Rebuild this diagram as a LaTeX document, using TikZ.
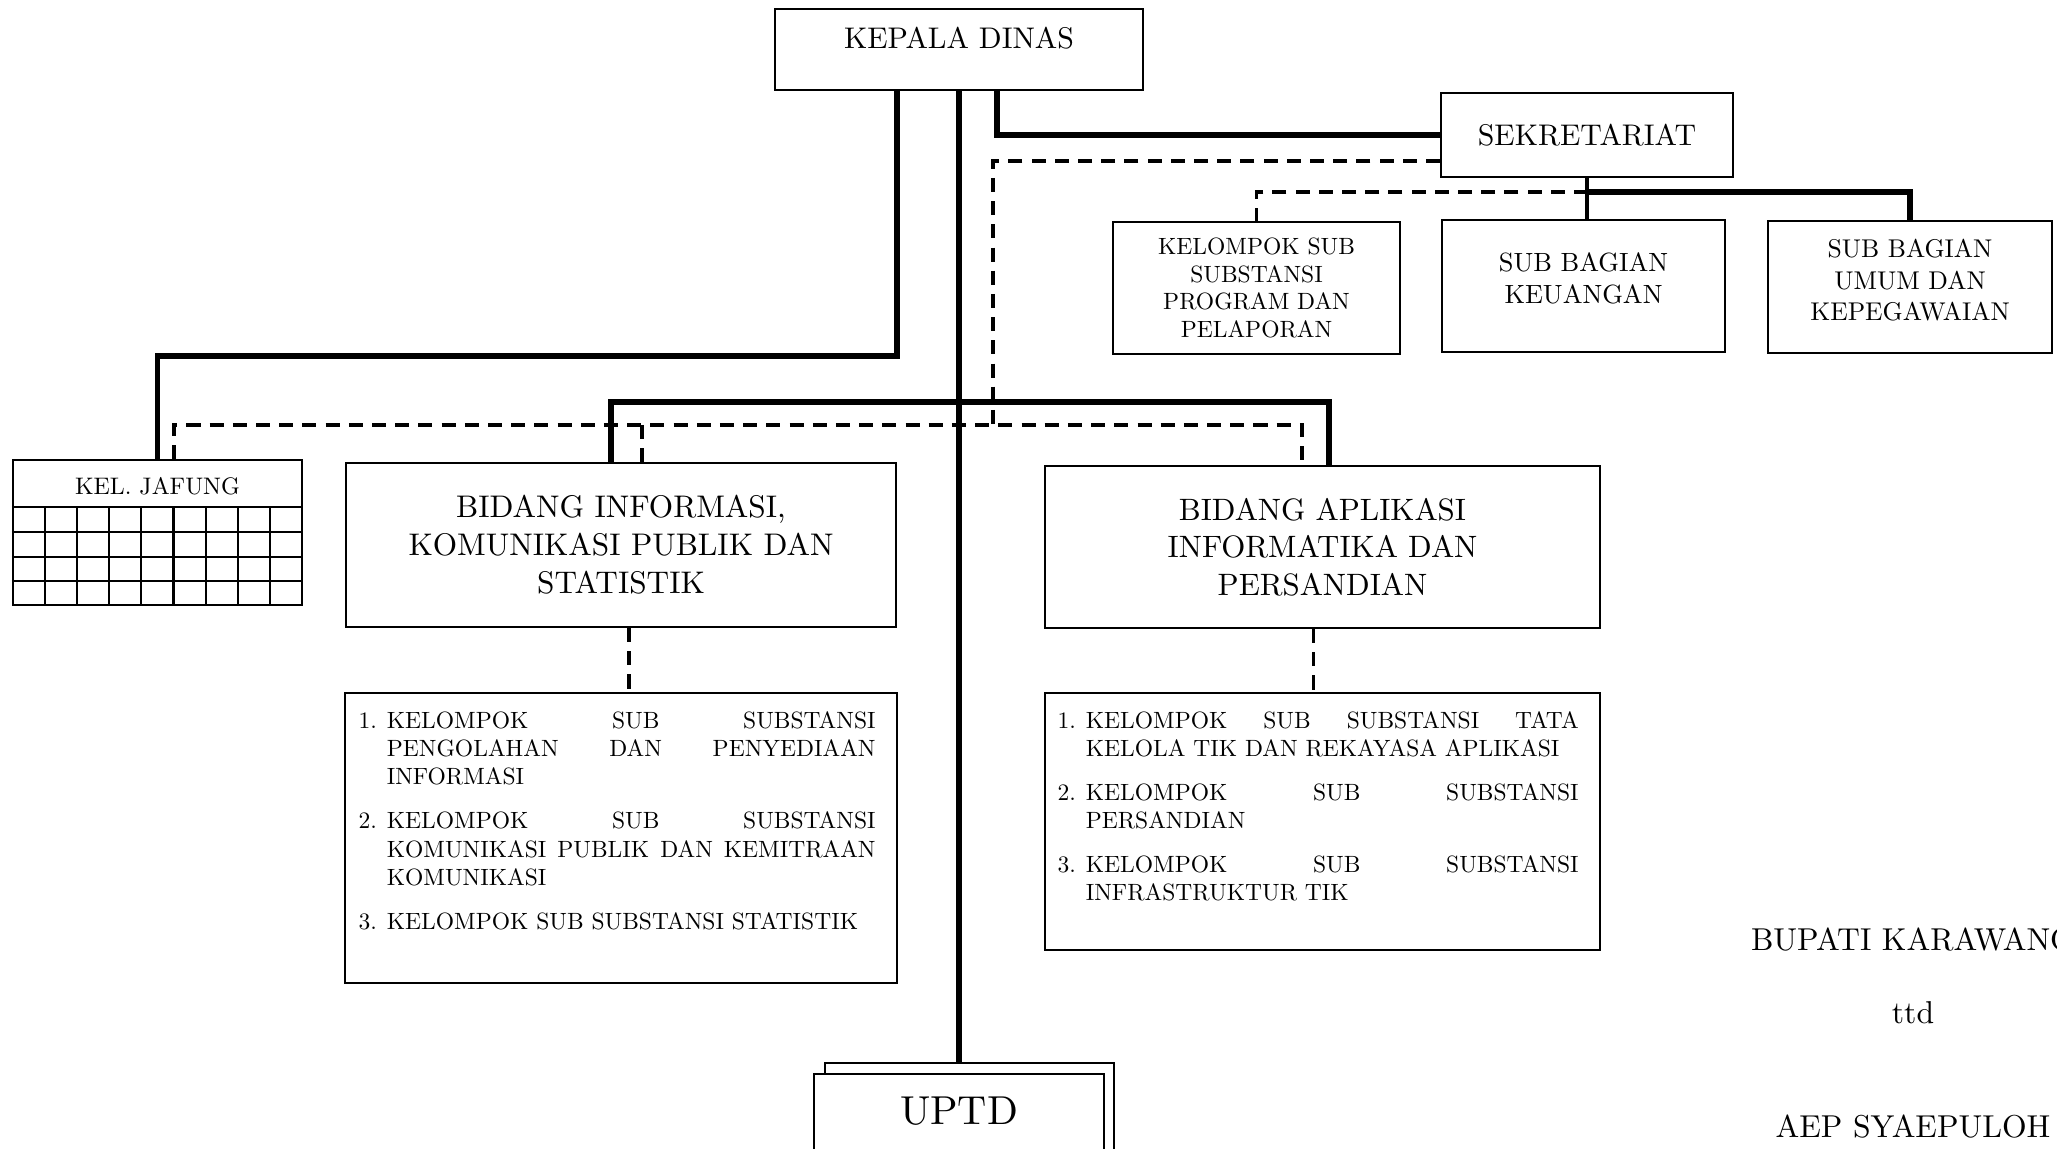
\documentclass[tikz,border=0pt]{standalone}
\usepackage{fontspec}
\setmainfont{lmroman10-regular.otf}[BoldFont = lmroman10-bold.otf]
\hyphenpenalty=10000
\exhyphenpenalty=10000
\newcommand{\butir}[2]{\par\hangindent=8pt\hangafter=1\noindent\makebox[8pt][l]{#1.}#2\par}
\begin{document}
\begin{tikzpicture}[x = 0.1mm, y = -0.1mm,
    box/.style = {draw, line width = 0.6pt, inner sep = 0pt, align = center, fill = white},
    thick line/.style = {line width = 1.6pt},
    mid line/.style = {line width = 1.1pt},
    dash line/.style = {line width = 0.9pt, dash pattern = on 4pt off 2.6pt},
    list text/.style = {anchor = north west, inner sep = 0pt, align = justify, font = \fontsize{6.7}{8}\selectfont}]
  \useasboundingbox (0, 0) rectangle (2057, 1149);

  \node[box, minimum width = 36.8mm, minimum height = 8.1mm,
        label = {[anchor = center, yshift = -3mm, font = \fontsize{8.5}{10}\selectfont]north:KEPALA DINAS}] (kadis) at (959, 49.5) {};
  \node[box, minimum width = 29.2mm, minimum height = 8.4mm, font = \fontsize{8.5}{10}\selectfont] (sekr) at (1587, 135) {SEKRETARIAT};
  \node[box, minimum width = 28.7mm, minimum height = 13.2mm, font = \fontsize{6.7}{7.9}\selectfont] (program) at (1256.5, 288) {KELOMPOK SUB\\SUBSTANSI\\PROGRAM DAN\\PELAPORAN};
  \node[box, minimum width = 28.3mm, minimum height = 13.2mm, text depth = 4.6pt, font = \fontsize{7.5}{9}\selectfont] (keuangan) at (1583.5, 286) {SUB BAGIAN\\KEUANGAN};
  \node[box, minimum width = 28.4mm, minimum height = 13.2mm, text depth = 4pt, font = \fontsize{7.3}{9}\selectfont] (umum) at (1910, 287) {SUB BAGIAN\\UMUM DAN\\KEPEGAWAIAN};
  \node[box, minimum width = 28.9mm, minimum height = 14.5mm,
        label = {[anchor = center, yshift = -2.7mm, font = \fontsize{6.8}{8}\selectfont]north:KEL. JAFUNG}] (jafung) at (157.5, 532.5) {};
  \node[box, minimum width = 55mm, minimum height = 16.4mm, font = \fontsize{8.9}{10.8}\selectfont] (informasi) at (621, 545) {BIDANG INFORMASI,\\KOMUNIKASI PUBLIK DAN\\STATISTIK};
  \node[box, minimum width = 55.5mm, minimum height = 16.2mm, font = \fontsize{8.8}{10.7}\selectfont] (aplikasi) at (1322.5, 547) {BIDANG APLIKASI\\INFORMATIKA DAN\\PERSANDIAN};
  \node[box, minimum width = 55.2mm, minimum height = 29mm] (subinformasi) at (621, 838) {};
  \node[box, minimum width = 55.5mm, minimum height = 25.7mm] (subaplikasi) at (1322.5, 821.5) {};
  \node[box, line width = 0.5pt, minimum width = 28.9mm, minimum height = 15mm] (uptdb) at (969.5, 1138) {};
  \node[box, line width = 0.5pt, minimum width = 29mm, minimum height = 15mm,
        label = {[anchor = center, yshift = -3.8mm, font = \fontsize{11.5}{14}\selectfont]north:UPTD}] (uptd) at (959, 1149) {};

  \foreach \x in {1, ..., 8}
    \draw[line width = 0.6pt] ({13 + \x * 32.1}, 507) -- ({13 + \x * 32.1}, 605);
  \foreach \y in {507, 532, 557, 581}
    \draw[line width = 0.6pt] (jafung.west |- 0, \y) -- (jafung.east |- 0, \y);

  \node[list text, text width = 51.7mm] (listinformasi) at ([xshift = 1.4mm, yshift = -0.8mm]subinformasi.north west) {
    \butir{1}{KELOMPOK SUB SUBSTANSI\linebreak PENGOLAHAN DAN PENYEDIAAN\linebreak INFORMASI}\vspace{4.5pt}
    \butir{2}{KELOMPOK SUB SUBSTANSI\linebreak KOMUNIKASI PUBLIK DAN KEMITRAAN\linebreak KOMUNIKASI}\vspace{4.5pt}
    \butir{3}{KELOMPOK SUB SUBSTANSI STATISTIK}};
  \node[list text, text width = 52.1mm] (listaplikasi) at ([xshift = 1.3mm, yshift = -0.8mm]subaplikasi.north west) {
    \butir{1}{KELOMPOK SUB SUBSTANSI TATA\linebreak KELOLA TIK DAN REKAYASA APLIKASI}\vspace{4.5pt}
    \butir{2}{KELOMPOK SUB SUBSTANSI\linebreak PERSANDIAN}\vspace{4.5pt}
    \butir{3}{KELOMPOK SUB SUBSTANSI\linebreak INFRASTRUKTUR TIK}};

  \node[font = \fontsize{9}{11}\selectfont] (bupati) at (1913, 940) {BUPATI KARAWANG};
  \node[font = \fontsize{9}{11}\selectfont] (ttd) at (1913, 1013) {ttd};
  \node[font = \fontsize{9}{11}\selectfont] (nama) at (1913, 1127) {AEP SYAEPULOH};

  \coordinate (jalurkiri) at (897, 356);
  \coordinate (jalurkanan) at (997, 137);
  \coordinate (bidangkiri) at (611, 402);
  \coordinate (bidangkanan) at (1329, 402);
  \coordinate (cabang) at (1588, 192);
  \coordinate (koorsek) at (993, 161);
  \coordinate (koorkiri) at (174, 425);
  \coordinate (koortengah) at (642, 425);
  \coordinate (koorkanan) at (1302, 425);

  \draw[dash line] (sekr.west |- koorsek) -- (koorsek) -- (koorsek |- koorkiri);
  \draw[dash line] (jafung.north -| koorkiri) -- (koorkiri) -- (koorkanan) -- (aplikasi.north -| koorkanan);
  \draw[dash line] (koortengah) -- (informasi.north -| koortengah);
  \draw[dash line] (cabang) -| (program.north);
  \draw[dash line] ([xshift = 0.8mm]informasi.south) -- ([xshift = 0.8mm]subinformasi.north);
  \draw[dash line] ([xshift = -0.9mm]aplikasi.south) -- ([xshift = -0.9mm]subaplikasi.north);
  \draw[thick line] (kadis.south -| jalurkiri) -- (jalurkiri) -| (jafung.north);
  \draw[thick line] (kadis.south -| jalurkanan) |- (sekr.west);
  \draw[thick line] (kadis.south) -- (kadis.south |- uptdb.north);
  \draw[thick line] (informasi.north -| bidangkiri) -- (bidangkiri) -- (bidangkanan) -- (aplikasi.north -| bidangkanan);
  \draw[mid line] (sekr.south) -- (sekr.south |- keuangan.north);
  \draw[thick line] (cabang) -| (umum.north);
\end{tikzpicture}
\end{document}
